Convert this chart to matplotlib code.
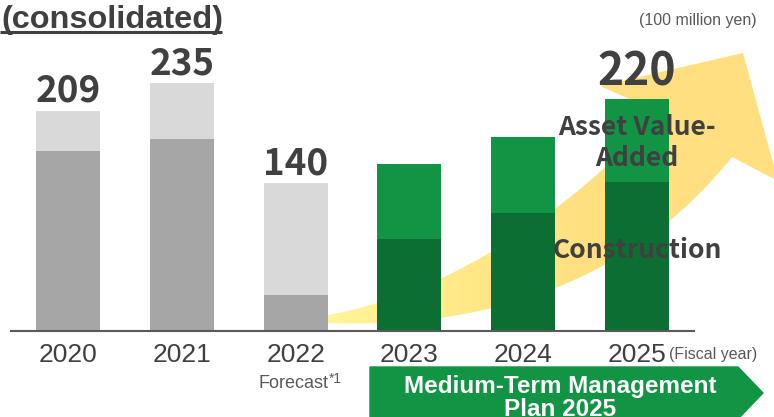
import numpy as np
import matplotlib
matplotlib.use('Agg')
import matplotlib.pyplot as plt
from matplotlib.path import Path
from matplotlib.patches import PathPatch, Polygon
from matplotlib.colors import LinearSegmentedColormap
from matplotlib.transforms import blended_transform_factory

W, H = 774, 417  # output size in pixels (dpi 100)

# Values in 100 million yen
years = ['2020', '2021', '2022', '2023', '2024', '2025']
construction = [171, 182, 34, 87, 112, 141]
asset_value_added = [38, 53, 106, 71, 72, 79]
total_labels = ['209', '235', '140', '', '', '220']

GRAY_DARK, GRAY_LIGHT = '#a6a6a6', '#d9d9d9'
GREEN_DARK, GREEN_LIGHT = '#0c6e33', '#119444'
TEXT = '#404040'
SMALL = '#595959'
SANS = 'Liberation Sans'
JP = 'Noto Sans CJK JP'

fig = plt.figure(figsize=(W / 100, H / 100), dpi=100)

# backdrop in pixel coordinates (y down): swoosh arrow, banner, headings
bg = fig.add_axes([0, 0, 1, 1], zorder=0)
bg.axis('off')

# curved arrow behind the bars, filled with a yellow gradient
verts = [(300, 319), (470, 301), (610, 170), (659, 112),
         (600, 86), (743, 53), (778, 181), (732, 157),
         (650, 260), (520, 330), (330, 323),
         (300, 319), (300, 319)]
codes = [Path.MOVETO, Path.CURVE4, Path.CURVE4, Path.CURVE4,
         Path.LINETO, Path.LINETO, Path.LINETO, Path.LINETO,
         Path.CURVE4, Path.CURVE4, Path.CURVE4,
         Path.LINETO, Path.CLOSEPOLY]
swoosh = PathPatch(Path(verts, codes), facecolor='none', edgecolor='none',
                   transform=bg.transData)
bg.add_patch(swoosh)
xs = np.linspace(300, 790, 400)
shade = np.clip((xs - 330) / 280, 0, 1)[None, :]
cmap = LinearSegmentedColormap.from_list('swoosh', ['#fff59a', '#ffe887', '#ffdf80'])
im = bg.imshow(shade, extent=[300, 790, 420, 40], cmap=cmap, vmin=0, vmax=1,
               aspect='auto', zorder=1)
im.set_clip_path(swoosh)

# plan banner
bg.add_patch(Polygon([(370, 367), (738, 367), (763, 393), (738, 419), (370, 419)],
                     closed=True, color=GREEN_LIGHT, zorder=2, clip_on=False))
bg.text(560, 393, 'Medium-Term Management', ha='center', va='baseline',
        fontsize=17.5, fontweight='bold', family=SANS, color='white', zorder=3)
bg.text(560, 416, 'Plan 2025', ha='center', va='baseline',
        fontsize=17.5, fontweight='bold', family=SANS, color='white', zorder=3)

# headings
bg.text(1, 27.5, '(consolidated)', ha='left', va='baseline', fontsize=23.4,
        fontweight='bold', family=SANS, color=TEXT)
bg.plot([0, 222], [32, 32], color=TEXT, lw=2.2, solid_capstyle='butt')
bg.text(757, 25, '(100 million yen)', ha='right', va='baseline',
        fontsize=11.5, family=SANS, color=SMALL)
bg.text(669, 359, '(Fiscal year)', ha='left', va='baseline',
        fontsize=11.5, family=SANS, color=SMALL)
bg.text(328, 388, 'Forecast', ha='right', va='baseline',
        fontsize=13, family=SANS, color=SMALL)
bg.text(329, 383, '*1', ha='left', va='baseline',
        fontsize=10, family=SANS, color=SMALL)

bg.set_xlim(0, W)
bg.set_ylim(H, 0)

# bar chart
ax = fig.add_axes([11 / W, 86 / H, 683 / W, 331 / H], zorder=1)
ax.patch.set_visible(False)
px_per_unit = 1.055
x = np.arange(len(years))
lower_colors = [GRAY_DARK] * 3 + [GREEN_DARK] * 3
upper_colors = [GRAY_LIGHT] * 3 + [GREEN_LIGHT] * 3
ax.bar(x, construction, width=0.5625, color=lower_colors, zorder=2)
ax.bar(x, asset_value_added, width=0.5625, bottom=construction,
       color=upper_colors, zorder=2)

for i, lab in enumerate(total_labels):
    if not lab:
        continue
    big = i == len(years) - 1
    ax.annotate(lab, (i, construction[i] + asset_value_added[i]),
                xytext=(0, 10 if big else 6.5), textcoords='offset points',
                ha='center', va='baseline', fontsize=32 if big else 26.5,
                fontweight='bold', family=JP, color=TEXT, zorder=5)

trans = blended_transform_factory(ax.transData, bg.transData)
for i, yr in enumerate(years):
    ax.text(i, 362, yr, transform=trans, ha='center', va='baseline',
            fontsize=19, family=SANS, color=TEXT, clip_on=False)

ax.text(5, 135, 'Asset Value-', transform=trans, ha='center', va='baseline',
        fontsize=19, fontweight='bold', family=JP, color=TEXT, zorder=5)
ax.text(5, 166, 'Added', transform=trans, ha='center', va='baseline',
        fontsize=19, fontweight='bold', family=JP, color=TEXT, zorder=5)
ax.text(5, 258, 'Construction', transform=trans, ha='center', va='baseline',
        fontsize=19, fontweight='bold', family=JP, color=TEXT, zorder=5)

ax.set_xlim(-0.5, 5.5)
ax.set_ylim(0, 331 / px_per_unit)
ax.set_xticks([])
ax.set_yticks([])
for side in ['top', 'right', 'left']:
    ax.spines[side].set_visible(False)
ax.spines['bottom'].set_color(SMALL)
ax.spines['bottom'].set_linewidth(1.5)

fig.savefig('out.png', dpi=100)
